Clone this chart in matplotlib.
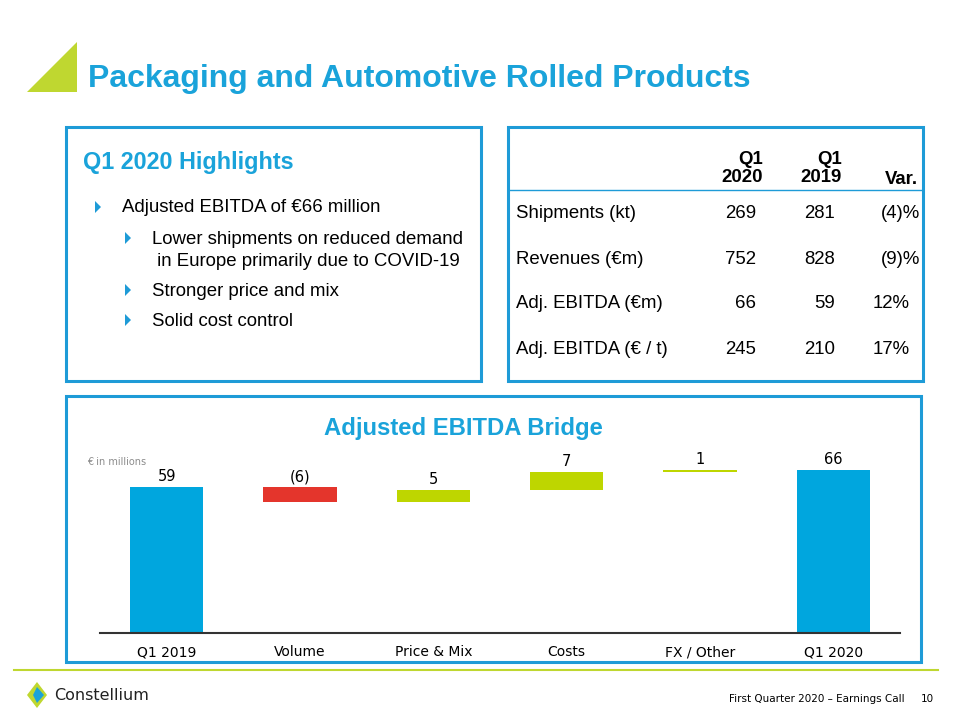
import numpy as np
import matplotlib.pyplot as plt
from matplotlib.patches import Rectangle, Polygon

# ---- data ----
categories = ['Q1 2019', 'Volume', 'Price & Mix', 'Costs', 'FX / Other', 'Q1 2020']
start_value = 59
deltas = [-6, 5, 7, 1]
end_value = 66

row_labels = ['Shipments (kt)', 'Revenues (€m)', 'Adj. EBITDA (€m)', 'Adj. EBITDA (€ / t)']
q1_2020 = ['269', '752', '66', '245']
q1_2019 = ['281', '828', '59', '210']
variation = ['(4)%', '(9)%', '12%', '17%']

highlights = ['Adjusted EBITDA of €66 million']
sub_points = ['Lower shipments on reduced demand', ' in Europe primarily due to COVID-19',
              'Stronger price and mix', 'Solid cost control']

BLUE = '#00A6DE'
TITLE_BLUE = '#1AA3DA'
BOX_BLUE = '#1E9BD7'
GREEN = '#BED600'
RED = '#E4352C'

plt.rcParams['font.family'] = ['Liberation Sans', 'DejaVu Sans']
narrow = ['DejaVu Sans']

fig = plt.figure(figsize=(9.6, 7.2), dpi=100)

# overlay in pixel coordinates
bg = fig.add_axes([0, 0, 1, 1])
bg.set_xlim(0, 960)
bg.set_ylim(720, 0)
bg.axis('off')

# title
bg.add_patch(Polygon([(27, 92), (77, 42), (77, 92)], closed=True, color='#BFD730', lw=0))
bg.text(88, 79, 'Packaging and Automotive Rolled Products', color=TITLE_BLUE,
        fontsize=23, fontweight='bold', va='center', ha='left')

# boxes
for (x0, y0, x1, y1) in [(66, 127, 481, 381), (508, 127, 923, 381), (66, 396, 921, 662)]:
    bg.add_patch(Rectangle((x0, y0), x1 - x0, y1 - y0, fill=False, ec=BOX_BLUE, lw=2.2))

# highlights box
bg.text(83, 162, 'Q1 2020 Highlights', color=TITLE_BLUE, fontsize=16.8, fontweight='bold', va='center')

def bullet(x, y):
    bg.add_patch(Polygon([(x - 3, y - 6), (x + 3, y), (x - 3, y + 6)], closed=True,
                         color=BOX_BLUE, lw=0))

FS = 13.4
bullet(98, 207)
bg.text(122, 208, highlights[0], fontsize=FS, va='center')
sub_y = [239, 262, 291, 321]
for i, (txt, y) in enumerate(zip(sub_points, sub_y)):
    if i != 1:
        bullet(128, y - 1)
    bg.text(152, y, txt, fontsize=FS, va='center')

# table box
for hx, top, bot in [(763, 'Q1', '2020'), (842, 'Q1', '2019')]:
    bg.text(hx, 159, top, fontsize=FS, fontweight='bold', ha='right', va='center')
    bg.text(hx, 178, bot, fontsize=FS, fontweight='bold', ha='right', va='center')
bg.text(918, 179, 'Var.', fontsize=FS, fontweight='bold', ha='right', va='center')
bg.plot([508, 923], [190, 190], color=BOX_BLUE, lw=1)

row_y = [214, 259, 304, 349]
for lab, a, b, v, y in zip(row_labels, q1_2020, q1_2019, variation, row_y):
    bg.text(516, y, lab, fontsize=FS, va='center')
    bg.text(756, y, a, fontsize=FS, va='center', ha='right')
    bg.text(835, y, b, fontsize=FS, va='center', ha='right')
    vx = 920 if v.startswith('(') else 910
    bg.text(vx, y, v, fontsize=FS, va='center', ha='right')

# chart title
bg.text(463, 428, 'Adjusted EBITDA Bridge', color=TITLE_BLUE, fontsize=17.2, fontweight='bold',
        ha='center', va='center')
bg.text(87, 462, '€ in millions', color='#8C8C8C', fontsize=7, va='center', family=narrow)

# footer
bg.plot([14, 938], [670, 670], color='#BFD730', lw=1.5)
bg.add_patch(Polygon([(37, 682), (47, 695), (37, 708), (27, 695)], closed=True, color='#BFD730', lw=0))
bg.add_patch(Polygon([(37, 687), (44, 695), (37, 703), (33, 695)], closed=True, color='#1AA3DA', lw=0))
bg.text(54, 695, 'Constellium', fontsize=11.5, va='center', color='#222222', family=narrow)
bg.text(905, 699, 'First Quarter 2020 – Earnings Call', fontsize=7.5, ha='right', va='center',
        family=narrow)
bg.text(934, 699, '10', fontsize=7.5, ha='right', va='center', family=narrow)

# ---- waterfall ----
W, H = 960, 720
ax_left, ax_right, ax_bottom, ax_top = 100, 900, 633, 450
ax = fig.add_axes([ax_left / W, 1 - ax_bottom / H, (ax_right - ax_left) / W, (ax_bottom - ax_top) / H])
ax.set_xlim(-0.5, 5.5)
ax.set_ylim(0, 74)

x = np.arange(len(categories))
levels = np.concatenate([[start_value], start_value + np.cumsum(deltas)])
bottoms = [0]
heights = [start_value]
colors = [BLUE]
for i, d in enumerate(deltas):
    lo = min(levels[i], levels[i + 1])
    bottoms.append(lo)
    heights.append(abs(d))
    colors.append(RED if d < 0 else GREEN)
bottoms.append(0)
heights.append(end_value)
colors.append(BLUE)

ax.bar(x, heights, bottom=bottoms, width=0.55, color=colors, zorder=2)

labels = [str(start_value)] + [f'({abs(d)})' if d < 0 else str(d) for d in deltas] + [str(end_value)]
for xi, b, h, lab in zip(x, bottoms, heights, labels):
    top = b + h
    ax.annotate(lab, (xi, top), xytext=(0, 2), textcoords='offset points', ha='center',
                va='bottom', fontsize=10.5, family=narrow, clip_on=False)

ax.set_xticks(x)
ax.set_xticklabels(categories, family=narrow, fontsize=10)
ax.tick_params(axis='x', length=0, pad=9)
ax.set_yticks([])
for s in ['top', 'right', 'left']:
    ax.spines[s].set_visible(False)
ax.spines['bottom'].set_color('#333333')
ax.spines['bottom'].set_linewidth(1.5)
ax.patch.set_alpha(0)

fig.savefig('out.png', dpi=100)
